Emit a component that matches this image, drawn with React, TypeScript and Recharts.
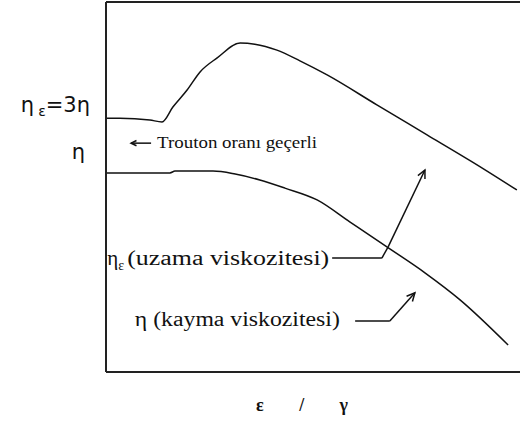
import { LineChart, Line, XAxis, YAxis, ReferenceLine, ReferenceDot } from 'recharts';

// extensional viscosity (uzama viskozitesi) vs deformation rate
const uzamaX = [0, 3.3, 10.5, 13.4, 16.0, 19.4, 22.5, 26.6, 32.1, 35.6, 40.9, 46.4, 52.9, 64.8, 76.8, 87.6, 98.3];
const uzamaY = [68.6, 68.6, 68.1, 67.6, 71.6, 76.2, 81.1, 84.9, 88.9, 88.6, 87.0, 84.1, 80.3, 72.2, 64.1, 56.8, 49.2];

// shear viscosity (kayma viskozitesi)
const kaymaX = [0, 15.3, 16.5, 25.6, 30.9, 36.8, 42.8, 50.5, 58.4, 67.2, 76.3, 84.7, 96.2];
const kaymaY = [53.8, 53.8, 54.3, 54.3, 53.5, 51.9, 49.7, 46.5, 40.5, 33.8, 26.8, 19.5, 7.3];

// left-hand level labels
const levelTicks = [59.5, 72.2];

// leader lines from the curve names to the curves
const uzamaLeader = [
  { x: 54.1, y: 30.8 },
  { x: 66.0, y: 30.8 },
  { x: 67.5, y: 33.8 },
  { x: 76.3, y: 54.6 },
];
const kaymaLeader = [
  { x: 59.6, y: 13.8 },
  { x: 67.9, y: 13.8 },
  { x: 73.9, y: 21.4 },
];

const uzamaData = uzamaX.map((x, i) => ({ x, y: uzamaY[i] }));
const kaymaData = kaymaX.map((x, i) => ({ x, y: kaymaY[i] }));

const SERIF = '"Liberation Serif", "Times New Roman", serif';
const SANS = '"DejaVu Sans", sans-serif';
const INK = '#111';

function LevelTick(props: any) {
  const { x, y, payload } = props;
  if (payload.value > 65) {
    return (
      <text x={x - 8} y={y + 7} textAnchor="end" fontFamily={SANS} fontSize={21} fill={INK}>
        η
        <tspan dx={4} dy={4} fontSize={14}>ε</tspan>
        <tspan dy={-4}>=3η</tspan>
      </text>
    );
  }
  return (
    <text x={x - 13} y={y + 7} textAnchor="end" fontFamily={SANS} fontSize={21} fill={INK}>
      η
    </text>
  );
}

function arrowHead(x1: number, y1: number, x2: number, y2: number, len = 9) {
  const a = Math.atan2(y2 - y1, x2 - x1);
  const spread = 0.45;
  const h1 = `${x2 - len * Math.cos(a - spread)},${y2 - len * Math.sin(a - spread)}`;
  const h2 = `${x2 - len * Math.cos(a + spread)},${y2 - len * Math.sin(a + spread)}`;
  return <polyline points={`${h1} ${x2},${y2} ${h2}`} fill="none" stroke={INK} strokeWidth={1.5} />;
}

function ArrowLine(props: any) {
  const { x1, y1, x2, y2 } = props;
  return (
    <g>
      <line x1={x1} y1={y1} x2={x2} y2={y2} stroke={INK} strokeWidth={1.5} />
      {arrowHead(x1, y1, x2, y2)}
    </g>
  );
}

function leader(points: { x: number; y: number }[], name: string) {
  return points.slice(1).map((p, i) => {
    const last = i === points.length - 2;
    return (
      <ReferenceLine
        key={`${name}-${i}`}
        segment={[points[i], p]}
        stroke={INK}
        strokeWidth={1.5}
        shape={last ? ArrowLine : undefined}
      />
    );
  });
}

const TroutonNote = (p: any) => {
  const ay = p.cy - 5;
  return (
    <g>
      <line x1={p.cx + 20} y1={ay} x2={p.cx} y2={ay} stroke={INK} strokeWidth={1.5} />
      {arrowHead(p.cx + 20, ay, p.cx, ay, 6)}
      <text x={p.cx + 26} y={p.cy} fontFamily={SERIF} fontSize={16} fill={INK} textLength={160} lengthAdjust="spacingAndGlyphs">
        Trouton oranı geçerli
      </text>
    </g>
  );
};

const UzamaName = (p: any) => (
  <g fontFamily={SERIF} fill={INK}>
    <text x={p.cx} y={p.cy} fontSize={21}>
      η<tspan dy={5} fontSize={14}>ε</tspan>
    </text>
    <text x={p.cx + 20} y={p.cy} fontSize={20} textLength={202} lengthAdjust="spacingAndGlyphs">
      (uzama viskozitesi)
    </text>
  </g>
);

const KaymaName = (p: any) => (
  <text x={p.cx} y={p.cy} fontFamily={SERIF} fontSize={20} fill={INK} textLength={205} lengthAdjust="spacingAndGlyphs">
    η (kayma viskozitesi)
  </text>
);

const AxisName = (p: any) => {
  const { x, y, width, height } = p.viewBox;
  const cx = x + width / 2 - 13;
  return (
    <text x={cx - 46} y={y + height - 12} fontFamily={SERIF} fontSize={18} fontWeight="bold" fill={INK} textLength={92} lengthAdjust="spacing">
      ε / γ
    </text>
  );
};

export default function App() {
  return (
    <div style={{ position: 'absolute', left: 0, top: 0, width: 520, height: 423, overflow: 'hidden', background: '#fff' }}>
      <LineChart width={530} height={423} margin={{ top: 2, right: 6, left: 6, bottom: 0 }}>
        <XAxis
          type="number"
          dataKey="x"
          domain={[0, 100]}
          ticks={[]}
          tickLine={false}
          height={51}
          axisLine={{ stroke: '#222', strokeWidth: 2 }}
          label={<AxisName />}
        />
        <YAxis
          type="number"
          domain={[0, 100]}
          ticks={levelTicks}
          tickLine={false}
          width={100}
          axisLine={{ stroke: '#222', strokeWidth: 2 }}
          tick={LevelTick}
        />
        <ReferenceLine y={100} stroke="#222" strokeWidth={2} ifOverflow="extendDomain" />
        <Line data={uzamaData} dataKey="y" type="monotone" stroke={INK} strokeWidth={1.5} dot={false} isAnimationActive={false} />
        <Line data={kaymaData} dataKey="y" type="monotone" stroke={INK} strokeWidth={1.5} dot={false} isAnimationActive={false} />
        {leader(uzamaLeader, 'uzama')}
        {leader(kaymaLeader, 'kayma')}
        <ReferenceDot x={6.0} y={60.5} r={0} shape={TroutonNote} />
        <ReferenceDot x={0.3} y={28.9} r={0} shape={UzamaName} />
        <ReferenceDot x={6.9} y={12.4} r={0} shape={KaymaName} />
      </LineChart>
    </div>
  );
}
